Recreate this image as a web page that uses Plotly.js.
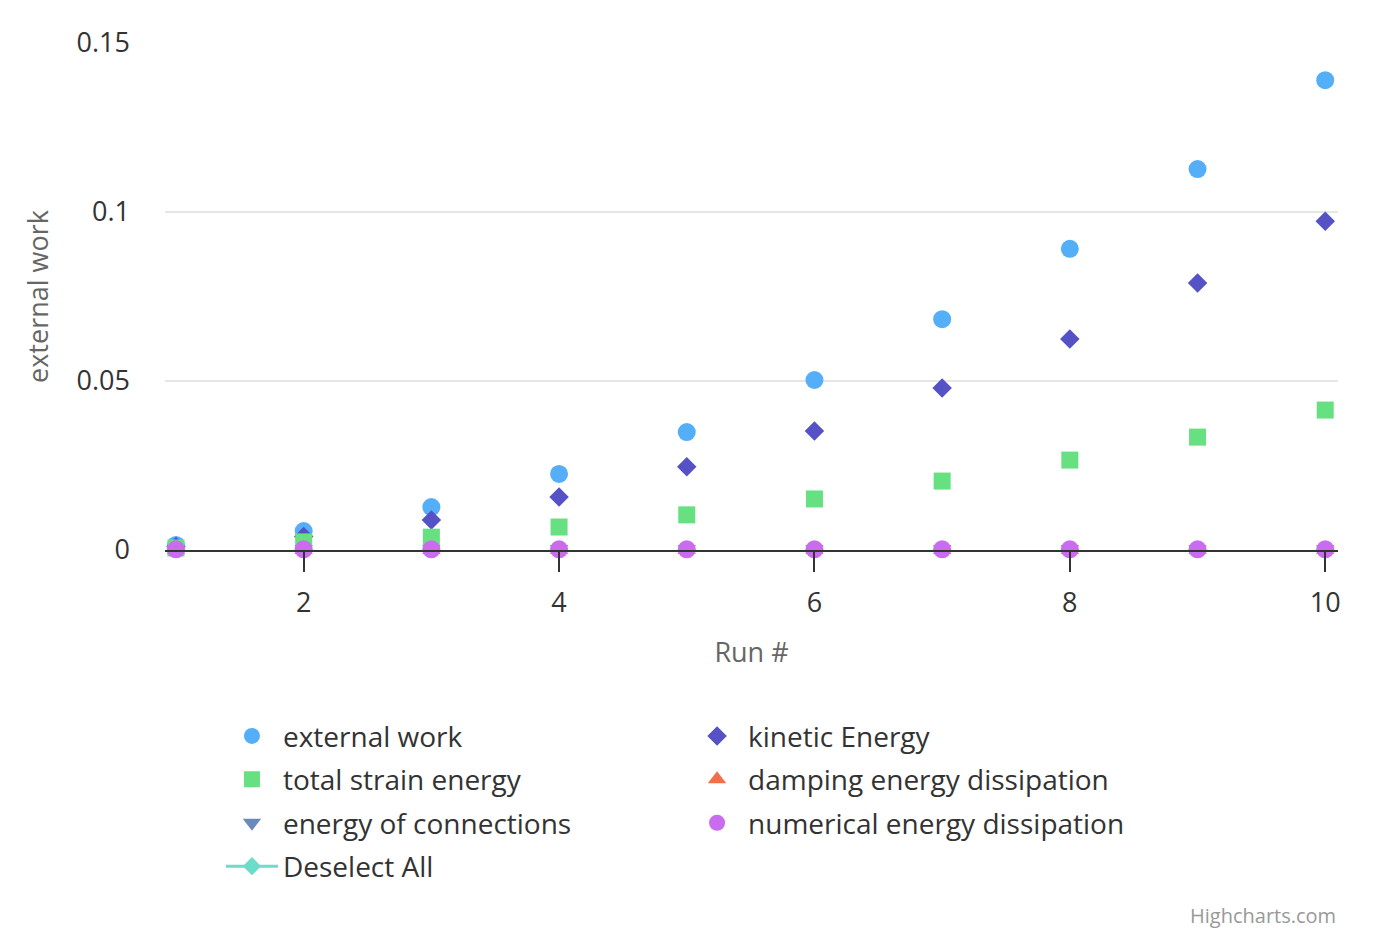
<!DOCTYPE html>
<html>
<head>
<meta charset="utf-8">
<script src="https://cdn.plot.ly/plotly-3.0.1.min.js"></script>
<style>html,body{margin:0;padding:0;background:#fff;}#chart{width:1374px;height:940px;}</style>
</head>
<body>
<div id="chart"></div>
<script>
const runs = [1, 2, 3, 4, 5, 6, 7, 8, 9, 10];
const externalWork = [0.0015, 0.0056, 0.0127, 0.0225, 0.0349, 0.0503, 0.0683, 0.0891, 0.1127, 0.1390];
const kineticEnergy = [0.0010, 0.0040, 0.0089, 0.0157, 0.0246, 0.0352, 0.0479, 0.0624, 0.0790, 0.0973];
const totalStrainEnergy = [0.0006, 0.0024, 0.0038, 0.0068, 0.0104, 0.0151, 0.0204, 0.0266, 0.0334, 0.0414];
const dampingEnergy = [0, 0, 0, 0, 0, 0, 0, 0, 0, 0];
const connectionsEnergy = [0.0003, 0.0003, 0.0003, 0.0003, 0.0003, 0.0003, 0.0003, 0.0003, 0.0003, 0.0003];
const numericalEnergy = [0.0002, 0.0002, 0.0002, 0.0002, 0.0002, 0.0002, 0.0002, 0.0002, 0.0002, 0.0002];
const yTickVals = [0, 0.05, 0.1, 0.15];
const yTickText = ['0', '0.05', '0.1', '0.15'];
const xTickVals = [2, 4, 6, 8, 10];

const FONT = '"Open Sans", "Noto Sans", sans-serif';
const SIZES = {circle: 18, square: 17, diamond: 15, 'triangle-up': 16, 'triangle-down': 16};

function series(name, y, color, symbol, legend) {
  return {
    type: 'scatter', mode: 'markers', name: name, x: runs, y: y,
    legend: legend, legendgroup: name, cliponaxis: false,
    marker: {color: color, symbol: symbol, size: SIZES[symbol], line: {width: 0}},
    hoverinfo: 'x+y+name'
  };
}

const data = [
  series('external work', externalWork, '#55aef8', 'circle', 'legend'),
  series('kinetic Energy', kineticEnergy, '#5552c6', 'diamond', 'legend2'),
  series('total strain energy', totalStrainEnergy, '#66e080', 'square', 'legend'),
  series('damping energy dissipation', dampingEnergy, '#f07048', 'triangle-up', 'legend2'),
  series('energy of connections', connectionsEnergy, '#6b8abc', 'triangle-down', 'legend'),
  series('numerical energy dissipation', numericalEnergy, '#c96cf0', 'circle', 'legend2'),
  {
    type: 'scatter', mode: 'lines+markers', name: 'Deselect All', x: [null], y: [null],
    legend: 'legend', legendgroup: 'Deselect All',
    line: {color: '#6ddcc8', width: 3},
    marker: {color: '#6ddcc8', symbol: 'diamond', size: 14, line: {width: 0}}
  }
];

const legendBase = {
  orientation: 'v', yanchor: 'top', xanchor: 'left',
  font: {family: FONT, size: 28, color: '#333333'},
  bgcolor: 'rgba(0,0,0,0)', tracegroupgap: 4, itemwidth: 52,
  itemclick: false, itemdoubleclick: false
};

const layout = {
  width: 1374, height: 940,
  margin: {l: 165, r: 36, t: 43, b: 390},
  paper_bgcolor: '#ffffff', plot_bgcolor: '#ffffff',
  font: {family: FONT, color: '#333333'},
  showlegend: true,
  xaxis: {
    range: [0.914, 10.1], tickvals: xTickVals, ticktext: xTickVals.map(String),
    showgrid: false, zeroline: false, showline: true, linecolor: '#333333', linewidth: 2,
    ticks: 'outside', ticklen: 20, tickwidth: 2, tickcolor: '#333333', ticklabelstandoff: 8,
    tickfont: {family: FONT, size: 27, color: '#333333'},
    title: {text: 'Run #', font: {family: FONT, size: 27, color: '#666666'}, standoff: 24}
  },
  yaxis: {
    range: [0, 0.15], tickvals: yTickVals, ticktext: yTickText,
    showgrid: true, gridcolor: '#e6e6e6', gridwidth: 2, zeroline: false, showline: false,
    ticks: '', ticklabelstandoff: 34,
    tickfont: {family: FONT, size: 27, color: '#333333'},
    title: {text: 'external work', font: {family: FONT, size: 27, color: '#666666'}, standoff: 20}
  },
  legend: Object.assign({}, legendBase, {x: 0.0477, y: -0.318}),
  legend2: Object.assign({}, legendBase, {x: 0.4442, y: -0.318}),
  annotations: [{
    text: 'Highcharts.com', xref: 'paper', yref: 'paper', x: 1, y: -0.72,
    xanchor: 'right', yanchor: 'middle', showarrow: false,
    font: {family: FONT, size: 20, color: '#999999'}
  }]
};

Plotly.newPlot('chart', data, layout, {displayModeBar: false});
</script>
</body>
</html>
